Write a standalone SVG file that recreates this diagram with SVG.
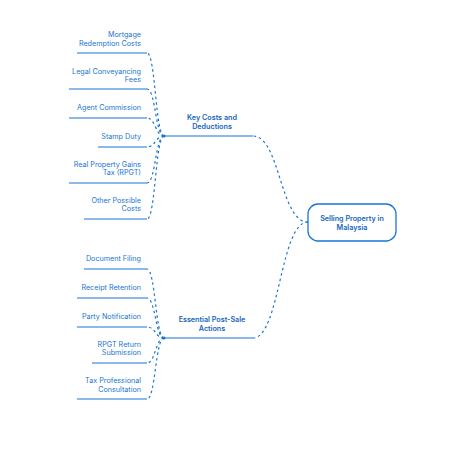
<svg xmlns="http://www.w3.org/2000/svg" width="462" height="450" viewBox="0 0 462 450">
<style>
text{font-family:Inter,"Liberation Sans",sans-serif;fill:#1976d2;}
.leaf{font-size:7.2px;text-anchor:end;}
.br{font-size:7.2px;font-weight:600;text-anchor:middle;fill:#1565c0;}
.root{font-size:7.2px;font-weight:600;text-anchor:middle;fill:#1565c0;}
.ul{stroke:#1976d2;stroke-width:1.2;fill:none;}
.dash{stroke:#1976d2;stroke-width:1.2;fill:none;stroke-dasharray:2.5 3;}
</style>
<rect width="462" height="450" fill="#ffffff"/>
<g id="connectors">
<path class="dash" d="M308,222 C280,222 280,136 253,136"/>
<path class="dash" d="M308,222 C280,222 280,338 253,338"/>
<path class="dash" d="M164,136 C155.5,136 155.5,53 147,53"/>
<path class="dash" d="M164,136 C155.5,136 155.5,89 147,89"/>
<path class="dash" d="M164,136 C155.5,136 155.5,118 147,118"/>
<path class="dash" d="M164,136 C155.5,136 155.5,147 147,147"/>
<path class="dash" d="M164,136 C155.5,136 155.5,183 147,183"/>
<path class="dash" d="M164,136 C155.5,136 155.5,219 147,219"/>
<path class="dash" d="M164,338 C155.5,338 155.5,269 147,269"/>
<path class="dash" d="M164,338 C155.5,338 155.5,298 147,298"/>
<path class="dash" d="M164,338 C155.5,338 155.5,327 147,327"/>
<path class="dash" d="M164,338 C155.5,338 155.5,363 147,363"/>
<path class="dash" d="M164,338 C155.5,338 155.5,399 147,399"/>
</g>
<g id="root">
<rect x="308" y="204" width="88" height="37" rx="10" fill="#ffffff" stroke="#1976d2" stroke-width="1.3"/>
<text class="root" x="352" y="221">Selling Property in</text>
<text class="root" x="352" y="230">Malaysia</text>
</g>
<g id="key-costs">
<line class="ul" x1="164" y1="136" x2="253" y2="136"/>
<circle cx="164" cy="136" r="1.5" fill="#1976d2"/>
<text class="br" x="212" y="120">Key Costs and</text>
<text class="br" x="212" y="129">Deductions</text>
</g>
<g id="post-sale">
<line class="ul" x1="164" y1="338" x2="253" y2="338"/>
<circle cx="164" cy="338" r="1.5" fill="#1976d2"/>
<text class="br" x="212" y="322">Essential Post-Sale</text>
<text class="br" x="212" y="331">Actions</text>
</g>
<g id="mortgage">
<line class="ul" x1="77" y1="53" x2="147" y2="53"/>
<text class="leaf" x="141" y="37">Mortgage</text>
<text class="leaf" x="141" y="46">Redemption Costs</text>
</g>
<g id="legal">
<line class="ul" x1="69" y1="89" x2="147" y2="89"/>
<text class="leaf" x="141" y="74">Legal Conveyancing</text>
<text class="leaf" x="141" y="82">Fees</text>
</g>
<g id="agent">
<line class="ul" x1="69" y1="118" x2="147" y2="118"/>
<text class="leaf" x="141" y="110">Agent Commission</text>
</g>
<g id="stamp">
<line class="ul" x1="98" y1="147" x2="147" y2="147"/>
<text class="leaf" x="141" y="139">Stamp Duty</text>
</g>
<g id="rpgt">
<line class="ul" x1="69" y1="183" x2="147" y2="183"/>
<text class="leaf" x="141" y="167">Real Property Gains</text>
<text class="leaf" x="141" y="175">Tax (RPGT)</text>
</g>
<g id="other">
<line class="ul" x1="84" y1="219" x2="147" y2="219"/>
<text class="leaf" x="141" y="203">Other Possible</text>
<text class="leaf" x="141" y="211">Costs</text>
</g>
<g id="document">
<line class="ul" x1="84" y1="269" x2="147" y2="269"/>
<text class="leaf" x="141" y="261">Document Filing</text>
</g>
<g id="receipt">
<line class="ul" x1="77" y1="298" x2="147" y2="298"/>
<text class="leaf" x="141" y="290">Receipt Retention</text>
</g>
<g id="party">
<line class="ul" x1="77" y1="327" x2="147" y2="327"/>
<text class="leaf" x="141" y="319">Party Notification</text>
</g>
<g id="rpgt-return">
<line class="ul" x1="92" y1="363" x2="147" y2="363"/>
<text class="leaf" x="141" y="347">RPGT Return</text>
<text class="leaf" x="141" y="355">Submission</text>
</g>
<g id="tax-pro">
<line class="ul" x1="77" y1="399" x2="147" y2="399"/>
<text class="leaf" x="141" y="383">Tax Professional</text>
<text class="leaf" x="141" y="392">Consultation</text>
</g>
</svg>
